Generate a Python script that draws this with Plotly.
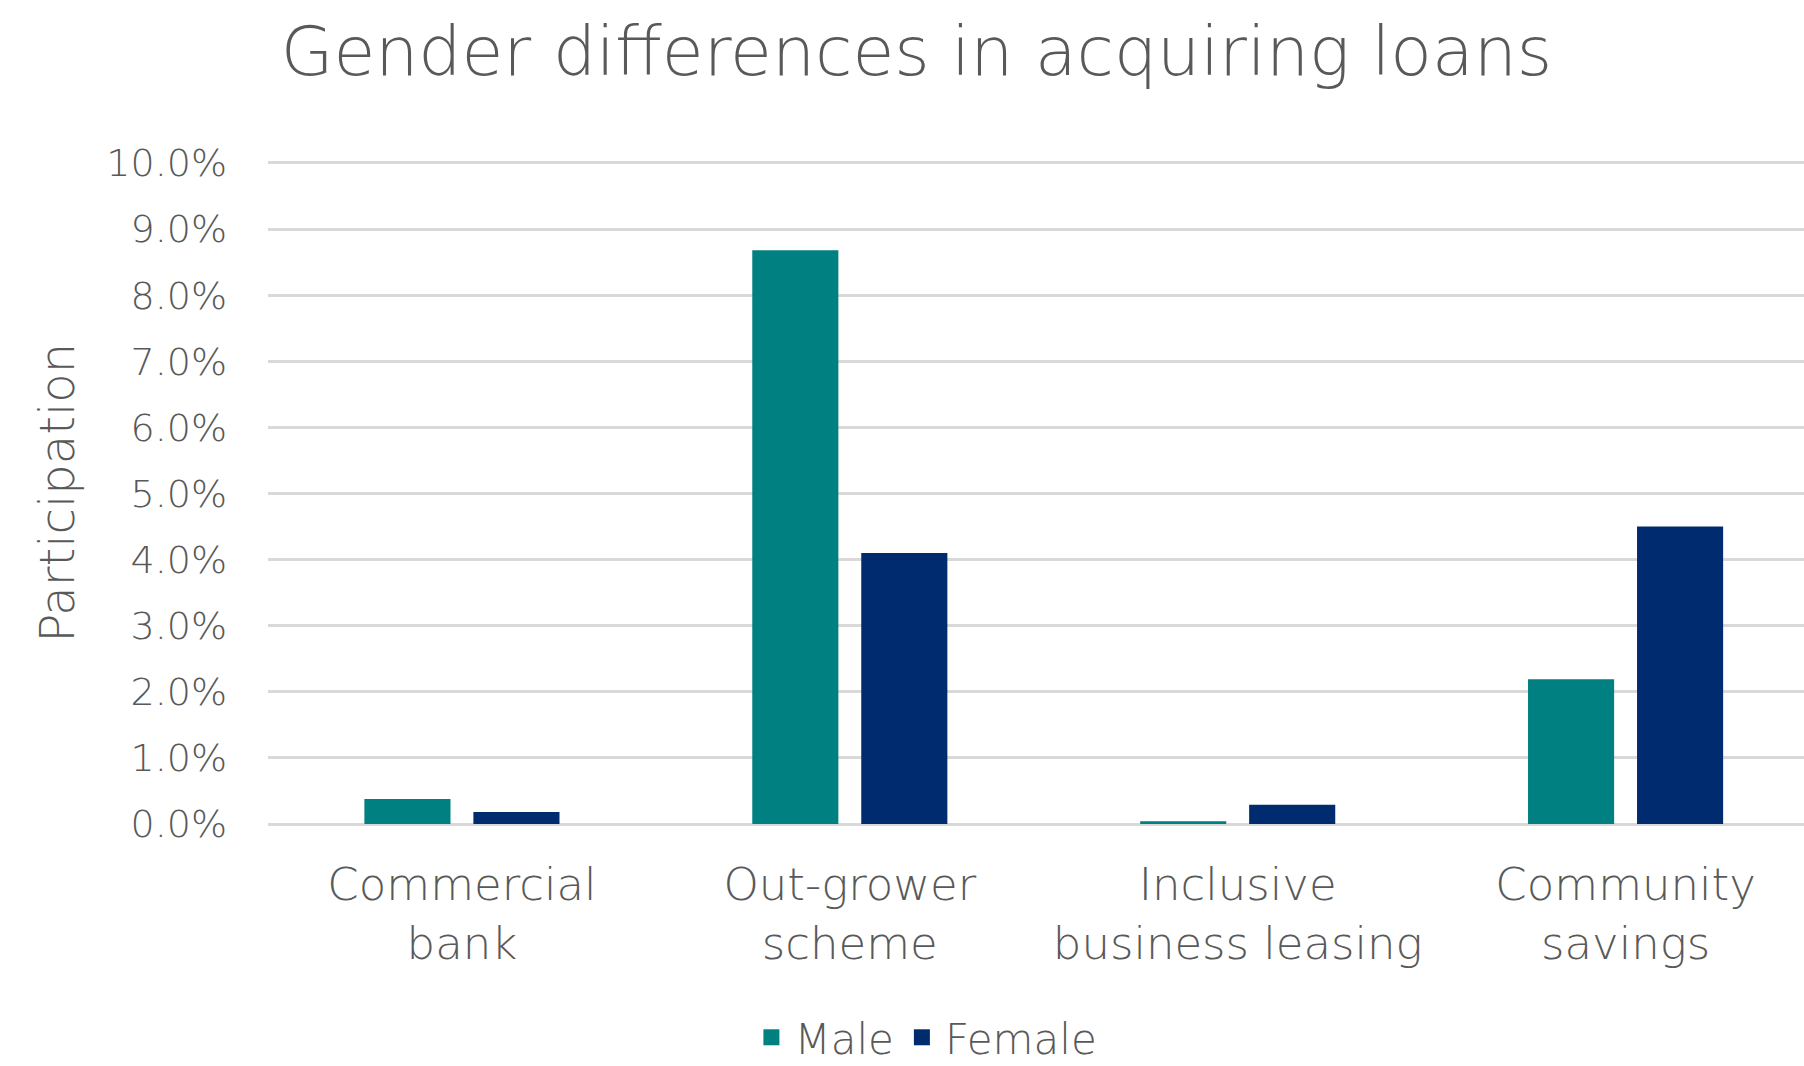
import plotly.graph_objects as go

# Loan sources and participation shares by gender
categories = ["Commercial<br>bank", "Out-grower<br>scheme", "Inclusive<br>business leasing", "Community<br>savings"]
male = [0.0038, 0.0868, 0.0004, 0.0219]
female = [0.0018, 0.0410, 0.0029, 0.0450]
y_ticks = [i / 100 for i in range(0, 11)]

TEAL = "#008080"
NAVY = "#002C6F"
TEXT = "#595959"
GRID = "#D9D9D9"
FONT = "DejaVu Sans"
WEIGHT = 200

fig = go.Figure()
fig.add_trace(go.Bar(x=categories, y=male, name="Male", marker=dict(color=TEAL, line=dict(width=0)),
                     showlegend=False))
fig.add_trace(go.Bar(x=categories, y=female, name="Female", marker=dict(color=NAVY, line=dict(width=0)),
                     showlegend=False))

# Square legend swatches
for name, color in [("Male", TEAL), ("Female", NAVY)]:
    fig.add_trace(go.Scatter(x=[None], y=[None], mode="markers", name=name,
                             marker=dict(symbol="square", size=24, color=color)))

fig.update_layout(
    width=1804, height=1066,
    margin=dict(l=268, r=0, t=161, b=242, autoexpand=False),
    paper_bgcolor="white", plot_bgcolor="white",
    font=dict(family=FONT, color=TEXT, weight=WEIGHT),
    barmode="group", bargap=0.438, bargroupgap=0.21,
    title=dict(text="Gender differences in acquiring loans", xref="container", x=0.508, xanchor="center",
               y=0.952, yanchor="middle",
               font=dict(size=68, color=TEXT, family=FONT, weight=WEIGHT)),
    legend=dict(orientation="h", xref="paper", x=0.428, xanchor="center", y=-0.322, yanchor="middle",
                font=dict(size=42, color=TEXT, weight=WEIGHT), itemsizing="trace", itemwidth=36,
                traceorder="normal"),
    xaxis=dict(range=[-0.5, 3.46], showgrid=False, showline=False, zeroline=False, automargin=False,
               tickfont=dict(size=45, color=TEXT, weight=WEIGHT), ticklabelstandoff=30, fixedrange=True),
    yaxis=dict(range=[0, 0.1003], tickvals=y_ticks, tickformat=".1%", showgrid=True, gridcolor=GRID,
               gridwidth=3, zeroline=True, zerolinecolor=GRID, zerolinewidth=3, showline=False,
               automargin=False, tickfont=dict(size=38, color=TEXT, weight=WEIGHT), ticklabelstandoff=40),
    annotations=[dict(text="Participation", xref="paper", yref="paper", x=-0.138, y=0.5,
                      xanchor="center", yanchor="middle", textangle=-90, showarrow=False,
                      font=dict(size=48, color=TEXT, family=FONT, weight=WEIGHT))],
)

fig.write_html("out.html")
